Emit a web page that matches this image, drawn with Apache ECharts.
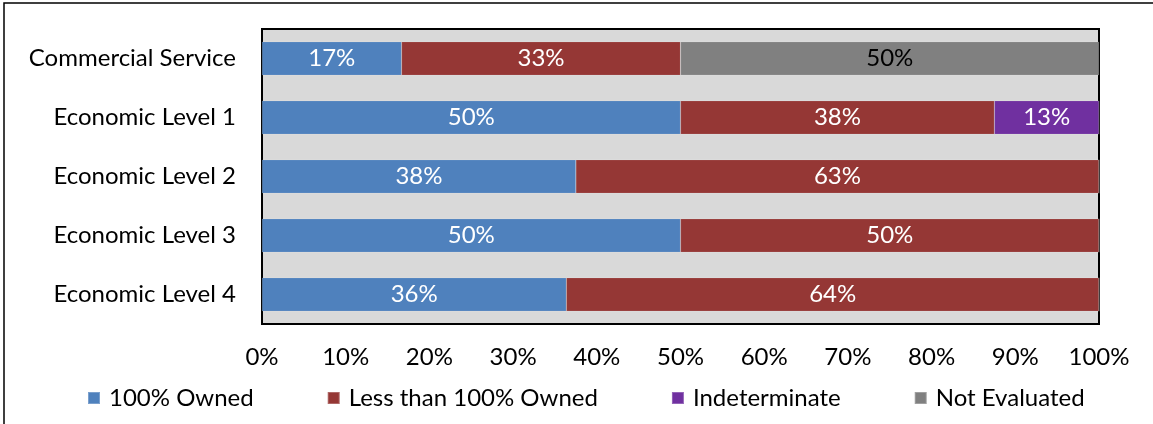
<!DOCTYPE html>
<html>
<head>
<meta charset="utf-8">
<script src="https://cdn.jsdelivr.net/npm/echarts@6/dist/echarts.min.js"></script>
<style>
  html, body { margin: 0; padding: 0; background: #fff; }
  #chart { width: 1153px; height: 424px; }
</style>
</head>
<body>
<div id="chart"></div>
<script>
// categories, top to bottom
const categories = ["Commercial Service", "Economic Level 1", "Economic Level 2", "Economic Level 3", "Economic Level 4"];

// percent shares per category
const owned100 = [16.67, 50, 37.5, 50, 36.36];
const lessThan100 = [33.33, 37.5, 62.5, 50, 63.64];
const indeterminate = [0, 12.5, 0, 0, 0];
const notEvaluated = [50, 0, 0, 0, 0];

const xTicks = [0, 10, 20, 30, 40, 50, 60, 70, 80, 90, 100];

const FONT = "Lato, 'Open Sans', sans-serif";
const FS = 24;

(function () {
  const chart = echarts.init(document.getElementById("chart"));

  function labelOf(color) {
    return {
      show: true,
      color: color,
      fontFamily: FONT,
      fontSize: FS,
      formatter: (p) => (p.value > 0 ? Math.round(p.value) + "%" : ""),
    };
  }

  function bar(name, data, color, textColor) {
    return {
      name,
      type: "bar",
      stack: "total",
      data,
      barWidth: "57%",
      itemStyle: { color, borderColor: "rgba(255,255,255,0.25)", borderWidth: 0.5 },
      label: labelOf(textColor),
      emphasis: { disabled: true },
    };
  }

  chart.setOption({
    animation: false,
    textStyle: { fontFamily: FONT },
    graphic: [
      {
        type: "rect",
        shape: { x: 4, y: 3, width: 1200, height: 500 },
        style: { fill: "none", stroke: "#000", lineWidth: 1.5 },
        silent: true,
      },
    ],
    grid: {
      left: 262,
      right: 54,
      top: 29,
      bottom: 100,
      show: true,
      backgroundColor: "#d9d9d9",
      borderColor: "#000",
      borderWidth: 2,
    },
    legend: {
      bottom: 9,
      left: 82,
      itemWidth: 12,
      itemHeight: 12,
      itemGap: 73,
      icon: "rect",
      textStyle: { fontFamily: FONT, fontSize: FS, color: "#000", padding: [0, 0, 0, 4] },
      data: ["100% Owned", "Less than 100% Owned", "Indeterminate", "Not Evaluated"],
    },
    xAxis: {
      type: "value",
      min: 0,
      max: 100,
      interval: 10,
      axisLine: { show: false },
      axisTick: { show: false },
      splitLine: { show: false },
      axisLabel: {
        margin: 21,
        fontFamily: FONT,
        fontSize: FS,
        color: "#000",
        formatter: (v) => (xTicks.includes(v) ? v + "%" : ""),
      },
    },
    yAxis: {
      type: "category",
      inverse: true,
      data: categories,
      axisLine: { show: false },
      axisTick: { show: false },
      axisLabel: { margin: 26, fontFamily: FONT, fontSize: FS, color: "#000" },
    },
    series: [
      bar("100% Owned", owned100, "#4f81bd", "#fff"),
      bar("Less than 100% Owned", lessThan100, "#953735", "#fff"),
      bar("Indeterminate", indeterminate, "#7030a0", "#fff"),
      bar("Not Evaluated", notEvaluated, "#808080", "#000"),
    ],
  });
})();
</script>
</body>
</html>
